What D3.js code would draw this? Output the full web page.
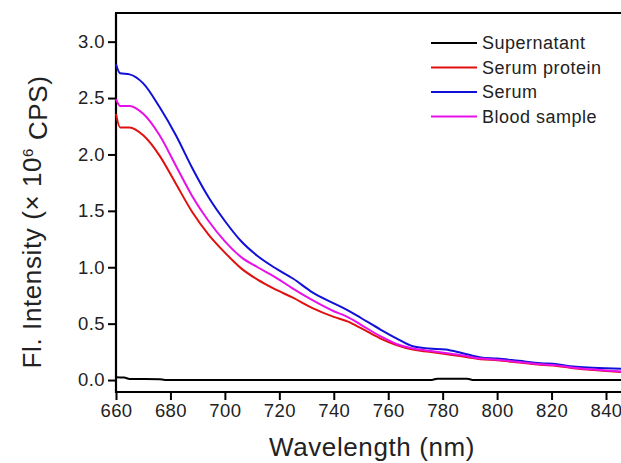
<!DOCTYPE html>
<html>
<head>
<meta charset="utf-8">
<script src="https://cdn.jsdelivr.net/npm/d3@7"></script>
<style>
  body { margin: 0; background: #fff; }
  svg text { font-family: "Liberation Sans", Arial, sans-serif; fill: #222; }
</style>
</head>
<body>
<svg id="chart"></svg>
<script>
// wavelengths (nm) shared by the three emission curves
var wavelengths = [660, 661.5, 665, 670, 676, 682, 688, 694, 700, 706, 712, 718, 725, 732, 740, 745, 750, 757, 763, 769, 775, 781, 787, 794, 800, 808, 816, 822, 828, 835, 840, 846];
var serum = [2.80, 2.72, 2.71, 2.63, 2.42, 2.17, 1.88, 1.62, 1.41, 1.23, 1.10, 1.00, 0.90, 0.78, 0.68, 0.62, 0.55, 0.45, 0.37, 0.30, 0.28, 0.27, 0.24, 0.20, 0.19, 0.17, 0.15, 0.14, 0.12, 0.11, 0.105, 0.10];
var bloodSample = [2.49, 2.43, 2.43, 2.36, 2.17, 1.90, 1.63, 1.41, 1.23, 1.09, 1.00, 0.92, 0.81, 0.71, 0.61, 0.56, 0.49, 0.39, 0.32, 0.28, 0.26, 0.24, 0.22, 0.19, 0.18, 0.16, 0.14, 0.13, 0.11, 0.095, 0.085, 0.075];
var serumProtein = [2.36, 2.24, 2.24, 2.17, 1.99, 1.74, 1.49, 1.29, 1.13, 0.99, 0.89, 0.81, 0.73, 0.64, 0.56, 0.52, 0.46, 0.37, 0.31, 0.27, 0.25, 0.23, 0.21, 0.185, 0.175, 0.155, 0.135, 0.125, 0.105, 0.09, 0.08, 0.07];

// supernatant stays near zero
var superWl = [660, 663, 665, 676, 678, 776, 778, 789, 791, 846];
var supernatant = [0.025, 0.022, 0.010, 0.008, 0.001, 0.001, 0.012, 0.012, 0.001, 0.001];

var xTicks = [660, 680, 700, 720, 740, 760, 780, 800, 820, 840];
var yTicks = [0.0, 0.5, 1.0, 1.5, 2.0, 2.5, 3.0];

var seriesNames = ["Supernatant", "Serum protein", "Serum", "Blood sample"];
var seriesColors = ["#000000", "#e01010", "#1010d8", "#e810e8"];

var width = 621;
var height = 463;
var plotLeft = 116, plotTop = 13, plotBottom = 392;

var svg = d3.select("#chart")
  .attr("width", width)
  .attr("height", height);

var xScale = d3.scaleLinear().domain([660, 850]).range([plotLeft, plotLeft + 190 * 490 / 180]);
var yScale = d3.scaleLinear().domain([-0.106, 3.254]).range([plotBottom, plotTop]);

// axes
var xAxis = svg.append("g")
  .attr("transform", "translate(0," + plotBottom + ")")
  .call(d3.axisBottom(xScale).tickValues(xTicks).tickSize(8).tickPadding(4).tickFormat(d3.format("d")));
var yAxis = svg.append("g")
  .attr("transform", "translate(" + plotLeft + ",0)")
  .call(d3.axisLeft(yScale).tickValues(yTicks).tickSize(8).tickPadding(3).tickFormat(d3.format(".1f")));

[xAxis, yAxis].forEach(function(a) {
  a.select(".domain").remove();
  a.selectAll("line").attr("stroke", "#000").attr("stroke-width", 2);
  a.selectAll("text").style("font-size", "18.5px").style("letter-spacing", "0.4px").attr("fill", "#222");
});

// frame lines (left, bottom, top; right edge is cut off)
svg.append("line").attr("x1", plotLeft).attr("x2", plotLeft).attr("y1", plotTop).attr("y2", plotBottom + 1)
  .attr("stroke", "#000").attr("stroke-width", 2.2);
svg.append("line").attr("x1", plotLeft - 1).attr("x2", width).attr("y1", plotBottom).attr("y2", plotBottom)
  .attr("stroke", "#000").attr("stroke-width", 2.2);
svg.append("line").attr("x1", plotLeft - 1).attr("x2", width).attr("y1", plotTop).attr("y2", plotTop)
  .attr("stroke", "#000").attr("stroke-width", 2.2);

var line = d3.line()
  .curve(d3.curveMonotoneX)
  .x(function(d) { return xScale(d[0]); })
  .y(function(d) { return yScale(d[1]); });

var curves = [
  d3.zip(superWl, supernatant),
  d3.zip(wavelengths, serumProtein),
  d3.zip(wavelengths, serum),
  d3.zip(wavelengths, bloodSample)
];

svg.selectAll(".curve")
  .data(curves)
  .enter()
  .append("path")
  .attr("class", "curve")
  .attr("d", line)
  .attr("fill", "none")
  .attr("stroke", function(d, i) { return seriesColors[i]; })
  .attr("stroke-width", 2);

// legend
var legend = svg.append("g").attr("transform", "translate(431,43)");
seriesNames.forEach(function(name, i) {
  var gy = i * 24.5;
  legend.append("line")
    .attr("x1", 0).attr("x2", 46).attr("y1", gy).attr("y2", gy)
    .attr("stroke", seriesColors[i]).attr("stroke-width", 2);
  legend.append("text")
    .attr("x", 51).attr("y", gy).attr("dy", "0.36em")
    .style("font-size", "18px")
    .style("letter-spacing", "0.5px")
    .text(name);
});

// axis titles
svg.append("text")
  .attr("x", 372).attr("y", 456)
  .attr("text-anchor", "middle")
  .style("font-size", "26px")
  .style("letter-spacing", "0.6px")
  .text("Wavelength (nm)");

var yTitle = svg.append("text")
  .attr("transform", "translate(41,222) rotate(-90)")
  .attr("text-anchor", "middle")
  .style("font-size", "26px")
  .style("letter-spacing", "0.6px");
yTitle.append("tspan").text("Fl. Intensity (\u00d7 10");
yTitle.append("tspan").attr("dy", "-0.55em").style("font-size", "15px").text("6");
yTitle.append("tspan").attr("dy", "0.55em").text(" CPS)");
</script>
</body>
</html>
